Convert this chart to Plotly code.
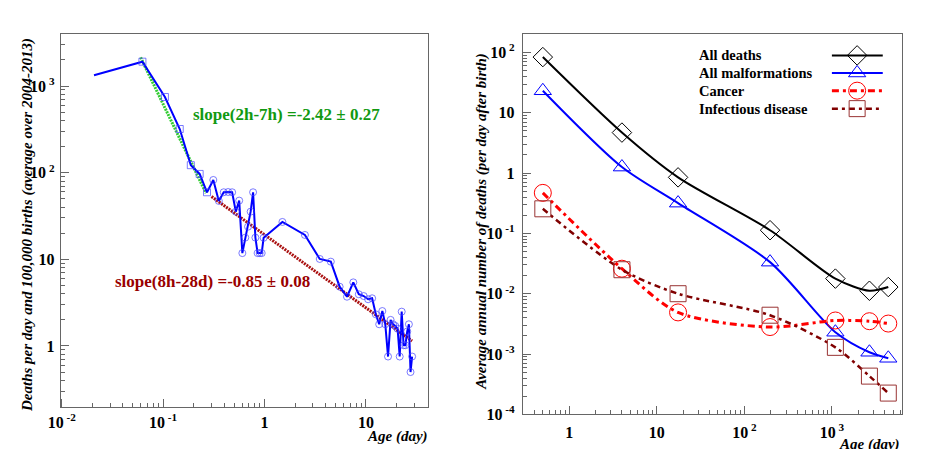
import plotly.graph_objects as go

# ---- left panel: deaths per day vs age ----
hours = [h + 0.5 for h in range(24)]
age_hours = [h / 24 for h in hours]
deaths_hours = [1330, 1910, 747, 319, 122, 96.7, 59.4, 82.4, 47.2, 59.4, 59.8, 59.4,
                35.5, 47.6, 11.8, 17.8, 23.8, 35.5, 59.4, 17.8, 11.8, 11.8, 11.8, 17.7]
age_days = [d + 0.5 for d in range(1, 29)]
deaths_days = [27, 19.1, 10.1, 9.4, 4.83, 3.7, 5.42, 3.95, 3.77, 3.46, 3.55, 2.32,
               1.78, 2.53, 1.78, 0.755, 2.0, 1.78, 1.70, 1.58, 0.755, 2.49, 1.02, 1.02,
               1.47, 1.78, 0.50, 0.755]

fit_early_x = [0.06, 0.265]
fit_early_y = [2140, 58]
fit_late_x = [0.30, 28.5]
fit_late_y = [53, 1.14]

# ---- right panel: annual deaths by age class ----
age_class = [0.5, 4, 17.5, 196.5, 1095, 2680, 4400]
all_deaths = [84, 4.7, 0.85, 0.113, 0.0178, 0.0112, 0.0129]
all_malf = [23.2, 1.26, 0.318, 0.0334, 0.0023, 0.00107, 0.00085]
cancer = [0.47, 0.026, 0.0049, 0.0028, 0.0036, 0.0035, 0.0032]
infectious = [0.256, 0.025, 0.0100, 0.0044, 0.00129, 0.00043, 0.000225]

# page keeps an 8px body margin; the capture is also slightly shifted/scaled,
# so screen pixels are mapped back to figure fractions here
OFF = 8
W, H = 910, 449
FONT = "Liberation Serif"


def px(x):
    return ((x - 10.6) / 0.9885 - OFF) / W


def py(y):
    return 1 - ((y - 0.4) / 0.981 - OFF) / H


fig = go.Figure()

x_left = age_hours + age_days
y_left = deaths_hours + deaths_days
symbols = ["circle-open"] + ["square-open"] * 6 + ["circle-open"] * (len(x_left) - 7)
sizes = [0] + [7] * (len(x_left) - 1)
fig.add_trace(go.Scatter(x=fit_early_x, y=fit_early_y, mode="lines",
                         line=dict(color="#33cc33", width=3, dash="2px,1px"),
                         xaxis="x", yaxis="y"))
fig.add_trace(go.Scatter(x=fit_late_x, y=fit_late_y, mode="lines",
                         line=dict(color="#aa1111", width=3, dash="2px,1px"),
                         xaxis="x", yaxis="y"))
fig.add_trace(go.Scatter(x=x_left, y=y_left, mode="lines+markers",
                         line=dict(color="#0000ff", width=2),
                         marker=dict(symbol=symbols, size=sizes, color="#4444ff",
                                     line=dict(width=1, color="#4444ff")),
                         xaxis="x", yaxis="y"))

series = [
    ("All deaths", all_deaths, "#000000", "solid", 2, "diamond-open", 15),
    ("All malformations", all_malf, "#0000ff", "solid", 2, "triangle-up-open", 15),
    ("Cancer", cancer, "#ff0000", "7px,4px,3px,4px", 3, "circle-open", 17),
    ("Infectious disease", infectious, "#800000", "6px,4px,3px,4px", 2.5, "square-open", 16),
]
mcol = {"#800000": "#993333"}
for name, vals, col, dash, lw, sym, ms in series:
    fig.add_trace(go.Scatter(x=age_class, y=vals, mode="lines+markers", name=name,
                             line=dict(color=col, width=lw, dash=dash, shape="spline", smoothing=0.8),
                             marker=dict(symbol=sym, size=ms, color=mcol.get(col, col),
                                         line=dict(width=1, color=mcol.get(col, col))),
                             xaxis="x2", yaxis="y2"))

# legend drawn in figure-fraction coords, samples to the right of text
leg_y = [py(55.7), py(73.3), py(91), py(109)]
for (name, vals, col, dash, lw, sym, ms), ly in zip(series, leg_y):
    fig.add_trace(go.Scatter(x=[px(831.7), px(882.7)], y=[ly, ly], mode="lines",
                             line=dict(color=col, width=lw, dash=dash),
                             xaxis="x3", yaxis="y3"))
    fig.add_trace(go.Scatter(x=[px(857)], y=[ly], mode="markers",
                             marker=dict(symbol=sym, size=ms, color=mcol.get(col, col),
                                         line=dict(width=1, color=mcol.get(col, col))),
                             xaxis="x3", yaxis="y3"))
    fig.add_annotation(x=px(696), y=ly, xref="paper", yref="paper", text="<b>%s</b>" % name,
                       showarrow=False, xanchor="left", yanchor="middle",
                       font=dict(family=FONT, size=14.5, color="black"))


def sup(e):
    return "10<sup> %d</sup>" % e


def minors(lo, hi):
    return [m * 10 ** e for e in range(lo, hi) for m in range(2, 10)]


axis_common = dict(type="log", showgrid=False, zeroline=False, showline=True, mirror=True,
                   linecolor="#666666", linewidth=1, ticks="inside", ticklen=8,
                   tickcolor="#666666", tickmode="array",
                   tickfont=dict(family=FONT, size=16, color="black", weight="bold"))

fig.update_layout(
    width=W, height=H, margin=dict(l=0, r=0, t=0, b=0),
    plot_bgcolor="rgba(0,0,0,0)", paper_bgcolor="white", showlegend=False,
    xaxis=dict(axis_common, domain=[px(58.3), px(426.5)], range=[-2.01, 1.61], anchor="y",
               tickvals=[0.01, 0.1, 1, 10], ticktext=[sup(-2), sup(-1), "1", "10"],
               ticklabelstandoff=1,
               minor=dict(tickmode="array", tickvals=minors(-2, 2), ticks="inside", ticklen=4,
                          tickcolor="#666666")),
    yaxis=dict(axis_common, domain=[py(407.3), py(34.3)], range=[-0.70, 3.60], anchor="x",
               tickvals=[1, 10, 100, 1000], ticktext=["1", "10", sup(2), sup(3)],
               ticklabelstandoff=2,
               minor=dict(tickmode="array", tickvals=minors(-1, 4), ticks="inside", ticklen=4,
                          tickcolor="#666666")),
    xaxis2=dict(axis_common, domain=[px(521.7), px(902)], range=[-0.53, 3.8], anchor="y2",
                tickvals=[1, 10, 100, 1000], ticktext=["1", "10", sup(2), sup(3)],
                ticklabelstandoff=3,
                minor=dict(tickmode="array", tickvals=minors(-1, 4), ticks="inside", ticklen=4,
                           tickcolor="#666666")),
    yaxis2=dict(axis_common, domain=[py(415), py(34.7)], range=[-4, 2.3], anchor="x2",
                tickvals=[1e-4, 1e-3, 1e-2, 0.1, 1, 10, 100],
                ticktext=[sup(-4), sup(-3), sup(-2), sup(-1), "1", "10", sup(2)],
                ticklabelstandoff=4,
                minor=dict(tickmode="array", tickvals=minors(-4, 3), ticks="inside", ticklen=4,
                           tickcolor="#666666")),
    xaxis3=dict(domain=[0, 1], range=[0, 1], visible=False, anchor="y3"),
    yaxis3=dict(domain=[0, 1], range=[0, 1], visible=False, anchor="x3"),
)

title_font = dict(family=FONT, size=15, color="black", weight="bold", style="italic")
fig.add_annotation(x=px(25), y=py(225), xref="paper", yref="paper", textangle=-90,
                   text="Deaths per day and 100,000 births (average over 2004-2013)",
                   xanchor="center", yanchor="middle", showarrow=False, font=title_font)
fig.add_annotation(x=px(480), y=py(222), xref="paper", yref="paper", textangle=-90,
                   text="Average annual number of deaths (per day after birth)",
                   xanchor="center", yanchor="middle", showarrow=False, font=title_font)
fig.add_annotation(x=px(429), y=py(437), xref="paper", yref="paper", text="Age (day)",
                   xanchor="right", yanchor="middle", showarrow=False, font=title_font)
fig.add_annotation(x=px(902), y=py(445), xref="paper", yref="paper", text="Age (day)",
                   xanchor="right", yanchor="middle", showarrow=False, font=title_font)

fig.add_annotation(x=px(285), y=py(115), xref="paper", yref="paper",
                   text="<b>slope(2h-7h) =-2.42 ± 0.27</b>", showarrow=False,
                   xanchor="center", yanchor="middle",
                   font=dict(family=FONT, size=17, color="#119911"))
fig.add_annotation(x=px(211), y=py(282), xref="paper", yref="paper",
                   text="<b>slope(8h-28d) =-0.85 ± 0.08</b>", showarrow=False,
                   xanchor="center", yanchor="middle",
                   font=dict(family=FONT, size=17, color="#990000"))

fig.write_html("out.html")
